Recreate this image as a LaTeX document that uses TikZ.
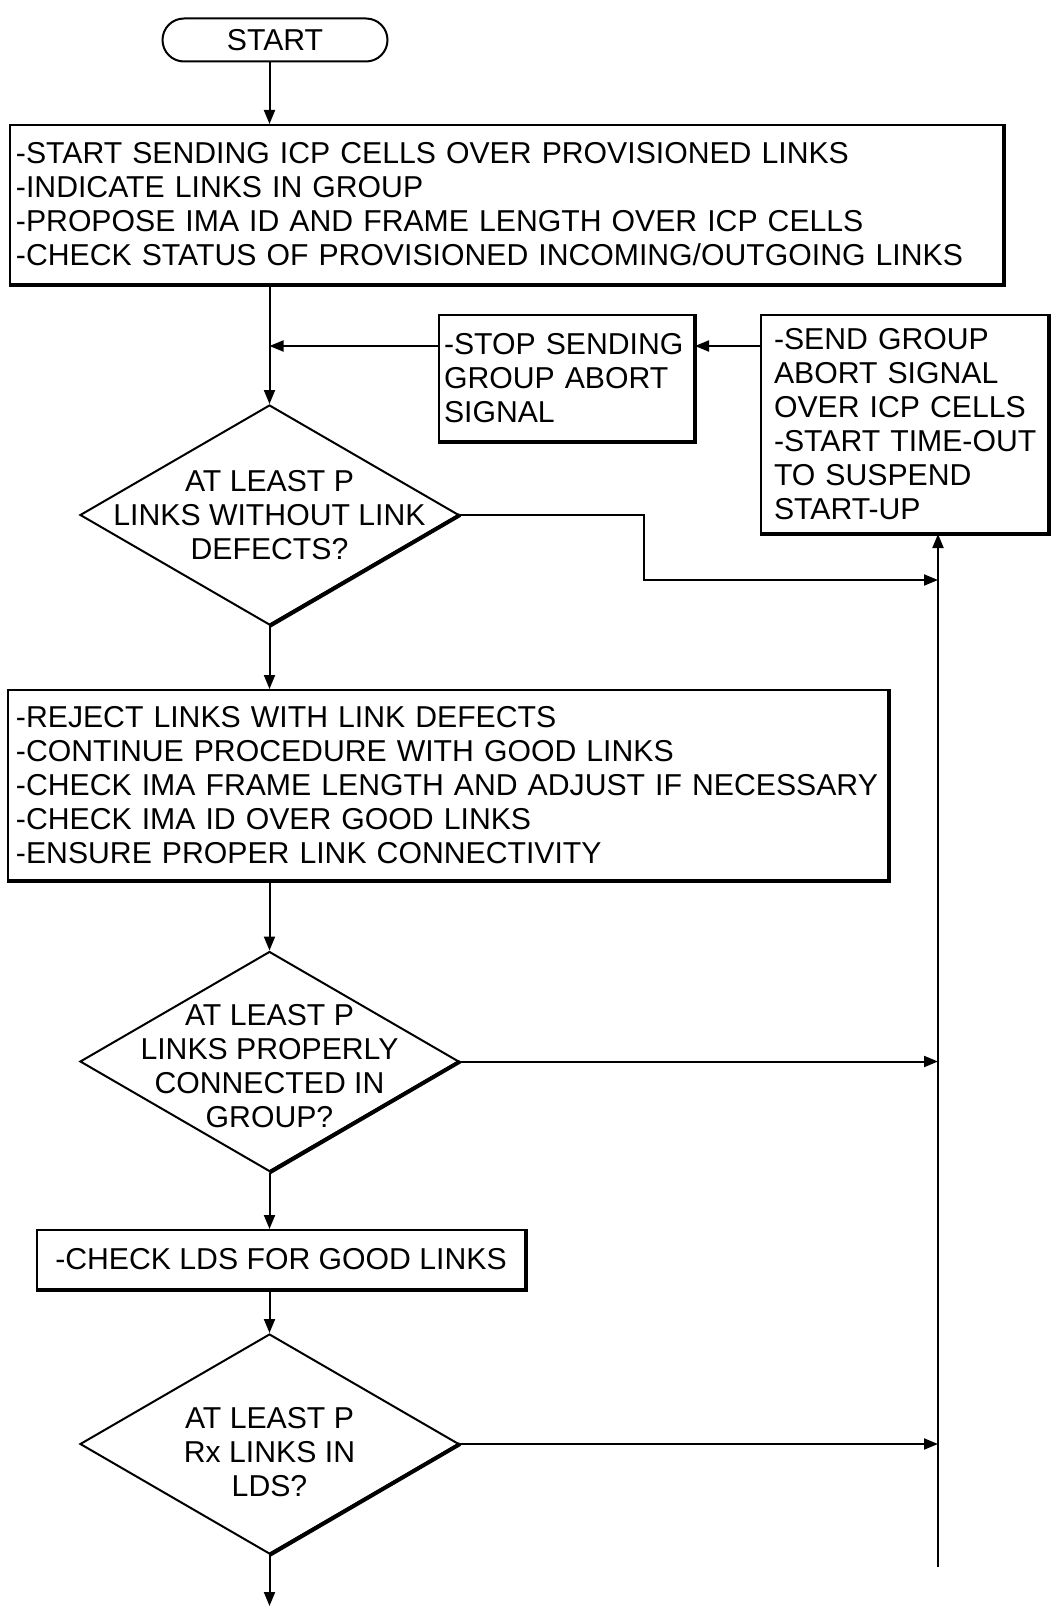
\documentclass[tikz,border=0pt]{standalone}
\usepackage{fontspec}
\setmainfont{Liberation Sans}
\usetikzlibrary{shapes.geometric,shapes.misc,arrows.meta,calc}
\begin{document}
\begin{tikzpicture}[x=1pt,y=-1pt,
  every node/.style={font=\fontsize{30.2pt}{34pt}\selectfont},
  line width=2pt,
  arr/.style={-{Triangle[length=14pt,width=11pt]}},
  pbox/.style={draw, rectangle, inner ysep=0pt, align=left},
  shadeline/.style={line width=4pt},
  dia/.style={draw, diamond, minimum width=379pt, minimum height=220pt, inner sep=0pt},
  dtext/.style={align=center, inner sep=0pt}]
\useasboundingbox (0,0) rectangle (1050,1608);

\node[draw, rounded rectangle, minimum width=225pt, minimum height=43pt, inner sep=0pt] (start) at (275,40) {START};

\node[pbox, minimum width=993pt, minimum height=159pt, text width=981pt, inner xsep=6pt] (box1) at (506.5,204.5)
 {\mbox{-START SENDING ICP CELLS OVER PROVISIONED LINKS}\\
  \mbox{-INDICATE LINKS IN GROUP}\\
  \mbox{-PROPOSE IMA ID AND FRAME LENGTH OVER ICP CELLS}\\
  \mbox{-CHECK STATUS OF PROVISIONED INCOMING/OUTGOING LINKS}};

\node[pbox, minimum width=255pt, minimum height=126pt, text width=245pt, inner xsep=5pt] (stop) at (566.5,378)
 {\mbox{-STOP SENDING}\\ \mbox{GROUP ABORT}\\ \mbox{SIGNAL}};

\node[pbox, minimum width=287pt, minimum height=218pt, text width=261pt, inner xsep=13pt] (send) at (904.5,424)
 {\mbox{-SEND GROUP}\\ \mbox{ABORT SIGNAL}\\ \mbox{OVER ICP CELLS}\\ \mbox{-START TIME-OUT}\\ \mbox{TO SUSPEND}\\ \mbox{START-UP}};

\node[dia, label={[dtext]center:AT LEAST P\\LINKS WITHOUT LINK\\DEFECTS?}] (d1) at (269.5,515) {};

\node[pbox, minimum width=880pt, minimum height=190pt, text width=864pt, inner xsep=8pt] (box2) at (448,785)
 {\mbox{-REJECT LINKS WITH LINK DEFECTS}\\
  \mbox{-CONTINUE PROCEDURE WITH GOOD LINKS}\\
  \mbox{-CHECK IMA FRAME LENGTH AND ADJUST IF NECESSARY}\\
  \mbox{-CHECK IMA ID OVER GOOD LINKS}\\
  \mbox{-ENSURE PROPER LINK CONNECTIVITY}};

\node[dia, label={[dtext, yshift=-4.5pt]center:AT LEAST P\\LINKS PROPERLY\\CONNECTED IN\\GROUP?}] (d2) at (269.5,1061.5) {};

\node[draw, rectangle, minimum width=488pt, minimum height=59pt, inner sep=0pt] (box3) at (281,1259.5) {-CHECK LDS FOR GOOD LINKS};

\node[dia, label={[dtext, yshift=-8pt]center:AT LEAST P\\Rx LINKS IN\\LDS?}] (d3) at (269.5,1444) {};

% shadows
\foreach \n in {box1,stop,send,box2,box3}
  \draw[shadeline] (\n.south west) -- (\n.south east) -- (\n.north east);
\foreach \n in {d1,d2,d3}
  \draw[shadeline] (\n.east) -- (\n.south);

% helper coordinates
\coordinate (m) at (269.5,0);
\coordinate (ya) at (0,346);
\coordinate (rb) at (938,1567);
\coordinate (k1) at (644,580);
\coordinate (j1) at (938,580);
\coordinate (fin) at (269.5,1606);

% connectors
\draw[arr] (start.south -| m) -- (box1.north -| m);
\draw[arr] (box1.south -| d1.north) -- (d1.north);
\draw[arr] (stop.west |- ya) -- (m |- ya);
\draw[arr] (send.west |- ya) -- (stop.east |- ya);
\draw[arr] (rb) -- (rb |- send.south);
\draw[arr] (d1.east) -- (d1.east -| k1) |- (j1);
\draw[arr] (d1.south) -- (d1.south |- box2.north);
\draw[arr] (box2.south -| d2.north) -- (d2.north);
\draw[arr] (d2.east) -- (d2.east -| rb);
\draw[arr] (d2.south) -- (d2.south |- box3.north);
\draw[arr] (box3.south -| d3.north) -- (d3.north);
\draw[arr] (d3.east) -- (d3.east -| rb);
\draw[arr] (d3.south) -- (fin);
\end{tikzpicture}
\end{document}
